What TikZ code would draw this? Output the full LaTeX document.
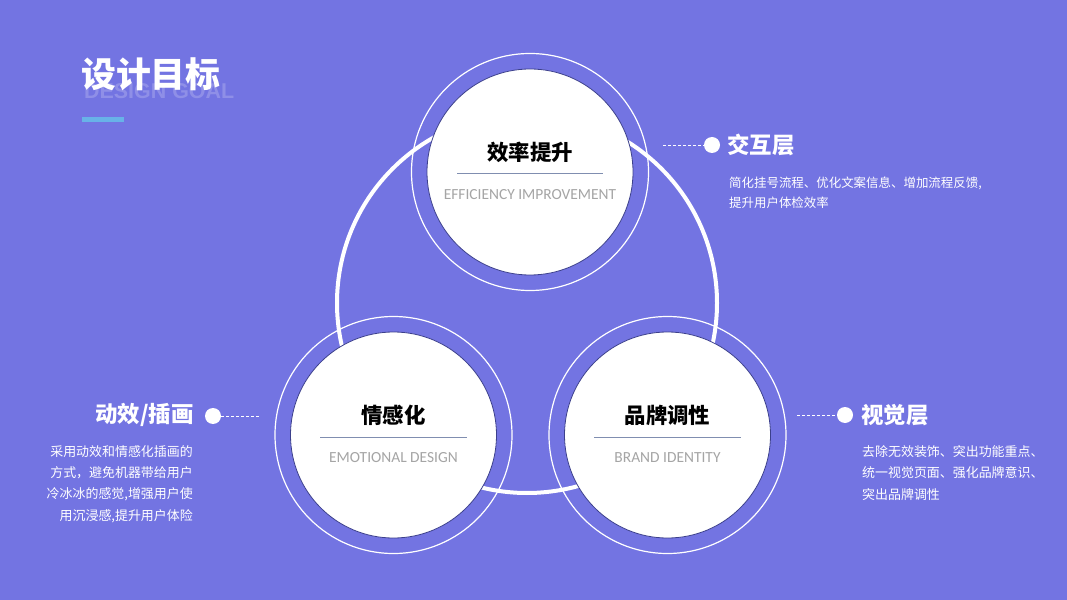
\documentclass[tikz,border=0pt]{standalone}
\usepackage{fontspec}
\setmainfont{Noto Sans CJK SC}
\newfontfamily\engfont{Carlito}
\newfontfamily\ghostfont{Liberation Sans}
\definecolor{bgpurple}{RGB}{115,116,226}
\definecolor{ringedge}{RGB}{60,64,140}
\definecolor{divgray}{RGB}{128,142,176}
\definecolor{enggray}{RGB}{165,165,165}
\definecolor{barblue}{RGB}{104,178,232}
\begin{document}
\begin{tikzpicture}[x=1bp,y=-1bp,
  ring/.style={draw=white, line width=1.2bp},
  disc/.style={circle, fill=white, draw=ringedge, line width=0.8bp, minimum size=206bp, inner sep=0pt},
  cname/.style={font=\fontsize{21.5}{25}\selectfont\bfseries, text=black},
  ename/.style={font=\engfont\fontsize{15.5}{17}\selectfont, text=enggray},
  divider/.style={draw=divgray, line width=1bp},
  dot/.style={circle, fill=white, minimum size=16bp, inner sep=0pt},
  lead/.style={draw=white, dash pattern=on 3bp off 2bp, line width=0.7bp},
  head/.style={font=\fontsize{22.5}{26}\selectfont\bfseries, text=white, inner sep=0pt},
  desc/.style={font=\fontsize{13}{21.5}\selectfont, text=white, inner sep=0pt}]

% background and frame
\fill[bgpurple] (0,0) rectangle (1067,600);
\useasboundingbox (0,0) rectangle (1067,600);

% title
\node[font=\ghostfont\fontsize{21.5}{24}\selectfont\bfseries, text=white, opacity=0.2, anchor=west, inner sep=0pt] (ghost) at (84,91) {DESIGN GOAL};
\node[font=\fontsize{35}{38}\selectfont\bfseries, text=white, anchor=west, inner sep=0pt] (title) at (81,74) {设计目标};
\fill[barblue] (82,117) rectangle (124,122);

% big ring behind the three circles
\draw[white, line width=4bp] (527,303) circle[radius=190];

% thin outer rings
\draw[ring] (530,172) circle[radius=118.5];
\draw[ring] (393.5,435) circle[radius=118.5];
\draw[ring] (667.5,435) circle[radius=118.5];

% white discs
\node[disc] (eff) at (530,172) {};
\node[disc] (emo) at (393.5,435) {};
\node[disc] (brand) at (667.5,435) {};

% disc contents
\node[cname] (effT) at (530,152) {效率提升};
\draw[divider] (457,174) -- (603,174);
\node[ename] (effE) at (530,195) {EFFICIENCY IMPROVEMENT};

\node[cname] (emoT) at (393.5,415) {情感化};
\draw[divider] (320,437) -- (467,437);
\node[ename] (emoE) at (393.5,458) {EMOTIONAL DESIGN};

\node[cname] (brandT) at (667.5,415) {品牌调性};
\draw[divider] (594,437) -- (741,437);
\node[ename] (brandE) at (667.5,458) {BRAND IDENTITY};

% interaction layer
\node[dot] (dotA) at (712,145) {};
\coordinate (leadA) at (663,145);
\draw[lead] (leadA) -- (dotA);
\node[head, anchor=west] (headA) at (727,145) {交互层};
\node[desc, anchor=north west, align=left, font=\fontsize{12.5}{20}\selectfont] (descA) at (729,177)
  {简化挂号流程、优化文案信息、增加流程反馈,\\提升用户体检效率};

% motion / illustration
\node[dot] (dotB) at (213,416) {};
\coordinate (leadB) at (259,416);
\draw[lead] (dotB) -- (leadB);
\node[head, anchor=east] (headB) at (194,415) {动效/插画};
\node[desc, anchor=north east, align=right] (descB) at (193,445)
  {采用动效和情感化插画的\\方式，避免机器带给用户\\冷冰冰的感觉,增强用户使\\用沉浸感,提升用户体险};

% visual layer
\node[dot] (dotC) at (845,415) {};
\coordinate (leadC) at (797,415);
\draw[lead] (leadC) -- (dotC);
\node[head, anchor=west] (headC) at (861,415) {视觉层};
\node[desc, anchor=north west, align=left] (descC) at (862,445)
  {去除无效装饰、突出功能重点、\\统一视觉页面、强化品牌意识、\\突出品牌调性};
\end{tikzpicture}
\end{document}
